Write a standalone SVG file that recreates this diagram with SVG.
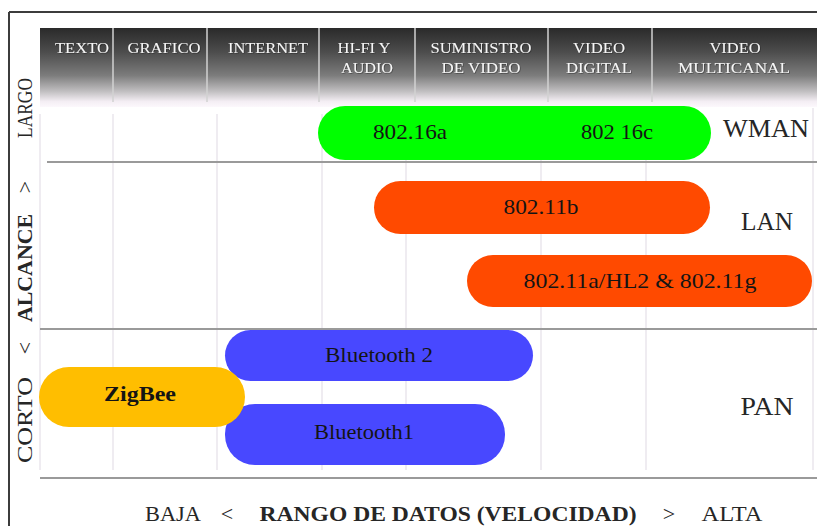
<svg xmlns="http://www.w3.org/2000/svg" width="817" height="526" viewBox="0 0 817 526">
<defs>
<linearGradient id="hdr" x1="0" y1="0" x2="0" y2="1">
<stop offset="0" stop-color="#2a2a2a"/>
<stop offset="0.3" stop-color="#4c4c4c"/>
<stop offset="0.6" stop-color="#7c7c7c"/>
<stop offset="0.8" stop-color="#c0bec0"/>
<stop offset="0.93" stop-color="#f4eef4"/>
<stop offset="1" stop-color="#fcf8fc"/>
</linearGradient>
<filter id="sh" x="-10%" y="-30%" width="120%" height="160%">
<feDropShadow dx="0.7" dy="0.7" stdDeviation="0.4" flood-color="#202020" flood-opacity="0.6"/>
</filter>
</defs>
<style>
.frame{stroke:#3c3c3c;stroke-width:2;fill:none}
.hdiv{stroke:#d2d2d2;stroke-width:1.5}
.vgrid{stroke:#e4e0e8;stroke-width:1.2}
.hgrid{stroke:#9a9a9a;stroke-width:2}
.ht{font-family:"Liberation Serif","Times New Roman",serif;font-size:15px;fill:#f6f6f6;text-anchor:middle;filter:url(#sh)}
.bt{font-family:"Liberation Serif","Times New Roman",serif;font-size:22px;fill:#141414;text-anchor:middle}
.lbl{font-family:"Liberation Serif","Times New Roman",serif;font-size:26px;fill:#262626;text-anchor:middle}
.ax{font-family:"Liberation Serif","Times New Roman",serif;font-size:22px;fill:#262626;text-anchor:middle}
.b{font-weight:bold}
</style>
<rect width="817" height="526" fill="#ffffff"/>
<g id="frame">
<line class="frame" x1="9" y1="12" x2="817" y2="12"/>
<line class="frame" x1="9" y1="12" x2="9" y2="526"/>
</g>
<g id="header">
<rect x="40" y="28" width="777" height="79" fill="url(#hdr)"/>
<line class="hdiv" x1="113" y1="28" x2="113" y2="102"/>
<line class="hdiv" x1="207" y1="28" x2="207" y2="102"/>
<line class="hdiv" x1="319" y1="28" x2="319" y2="102"/>
<line class="hdiv" x1="415" y1="28" x2="415" y2="102"/>
<line class="hdiv" x1="548" y1="28" x2="548" y2="102"/>
<line class="hdiv" x1="652" y1="28" x2="652" y2="102"/>
<text class="ht" x="82" y="53" textLength="54" lengthAdjust="spacingAndGlyphs">TEXTO</text>
<text class="ht" x="164" y="53" textLength="73" lengthAdjust="spacingAndGlyphs">GRAFICO</text>
<text class="ht" x="268" y="53" textLength="80" lengthAdjust="spacingAndGlyphs">INTERNET</text>
<text class="ht" x="364" y="53" textLength="53" lengthAdjust="spacingAndGlyphs">HI-FI Y</text>
<text class="ht" x="367" y="73" textLength="52" lengthAdjust="spacingAndGlyphs">AUDIO</text>
<text class="ht" x="481" y="53" textLength="101" lengthAdjust="spacingAndGlyphs">SUMINISTRO</text>
<text class="ht" x="481" y="73" textLength="79" lengthAdjust="spacingAndGlyphs">DE VIDEO</text>
<text class="ht" x="599" y="53" textLength="52" lengthAdjust="spacingAndGlyphs">VIDEO</text>
<text class="ht" x="599" y="73" textLength="66" lengthAdjust="spacingAndGlyphs">DIGITAL</text>
<text class="ht" x="735" y="53" textLength="51" lengthAdjust="spacingAndGlyphs">VIDEO</text>
<text class="ht" x="734" y="73" textLength="112" lengthAdjust="spacingAndGlyphs">MULTICANAL</text>
</g>
<g id="grid">
<line class="vgrid" x1="40" y1="114" x2="40" y2="470"/>
<line class="vgrid" x1="113" y1="114" x2="113" y2="470"/>
<line class="vgrid" x1="217" y1="114" x2="217" y2="470"/>
<line class="vgrid" x1="322" y1="114" x2="322" y2="470"/>
<line class="vgrid" x1="406" y1="114" x2="406" y2="470"/>
<line class="vgrid" x1="541" y1="114" x2="541" y2="470"/>
<line class="vgrid" x1="646" y1="114" x2="646" y2="470"/>
<line class="vgrid" x1="813" y1="108" x2="813" y2="470"/>
<line class="hgrid" x1="47" y1="162" x2="817" y2="162"/>
<line class="hgrid" x1="40" y1="329" x2="817" y2="329"/>
<line class="hgrid" x1="40" y1="478" x2="817" y2="478"/>
</g>
<g id="axis-y">
<text class="ax" transform="translate(32,420) rotate(-90)" textLength="86" lengthAdjust="spacingAndGlyphs">CORTO</text>
<text class="ax" transform="translate(32,348) rotate(-90)">&lt;</text>
<text class="ax b" transform="translate(32,268) rotate(-90)" textLength="108" lengthAdjust="spacingAndGlyphs">ALCANCE</text>
<text class="ax" transform="translate(32,187) rotate(-90)">&gt;</text>
<text class="ax" transform="translate(32,108) rotate(-90)" textLength="60" lengthAdjust="spacingAndGlyphs">LARGO</text>
</g>
<g id="wman">
<rect x="318" y="106" width="393" height="54" rx="27" fill="#00ff00"/>
<text class="bt" x="410" y="139" textLength="74" lengthAdjust="spacingAndGlyphs">802.16a</text>
<text class="bt" x="617" y="139" textLength="72" lengthAdjust="spacingAndGlyphs">802 16c</text>
</g>
<g id="lan-11b">
<rect x="374" y="181" width="336" height="53" rx="26.5" fill="#ff4a00"/>
<text class="bt" x="541" y="214" textLength="75" lengthAdjust="spacingAndGlyphs">802.11b</text>
</g>
<g id="lan-11a">
<rect x="467" y="255" width="345" height="52" rx="26" fill="#ff4a00"/>
<text class="bt" x="640" y="288" textLength="233" lengthAdjust="spacingAndGlyphs">802.11a/HL2 &amp; 802.11g</text>
</g>
<g id="bluetooth2">
<rect x="225" y="330" width="308" height="51" rx="25.5" fill="#4848ff"/>
<text class="bt" x="379" y="362" textLength="108" lengthAdjust="spacingAndGlyphs">Bluetooth 2</text>
</g>
<g id="bluetooth1">
<rect x="225" y="404" width="280" height="61" rx="30" fill="#4848ff"/>
<text class="bt" x="364" y="439" textLength="100" lengthAdjust="spacingAndGlyphs">Bluetooth1</text>
</g>
<g id="zigbee">
<rect x="39" y="367" width="206" height="60" rx="30" fill="#ffbe00"/>
<text class="bt b" x="140" y="401" textLength="72" lengthAdjust="spacingAndGlyphs">ZigBee</text>
</g>
<g id="labels">
<text class="lbl" x="766" y="137" textLength="86" lengthAdjust="spacingAndGlyphs">WMAN</text>
<text class="lbl" x="767" y="230" textLength="52" lengthAdjust="spacingAndGlyphs">LAN</text>
<text class="lbl" x="767" y="415" textLength="53" lengthAdjust="spacingAndGlyphs">PAN</text>
</g>
<g id="axis-x">
<text class="ax" x="173" y="521" textLength="56" lengthAdjust="spacingAndGlyphs">BAJA</text>
<text class="ax" x="227" y="521">&lt;</text>
<text class="ax b" x="448" y="521" textLength="377" lengthAdjust="spacingAndGlyphs">RANGO DE DATOS (VELOCIDAD)</text>
<text class="ax" x="669" y="521">&gt;</text>
<text class="ax" x="732" y="521" textLength="61" lengthAdjust="spacingAndGlyphs">ALTA</text>
</g>
</svg>
